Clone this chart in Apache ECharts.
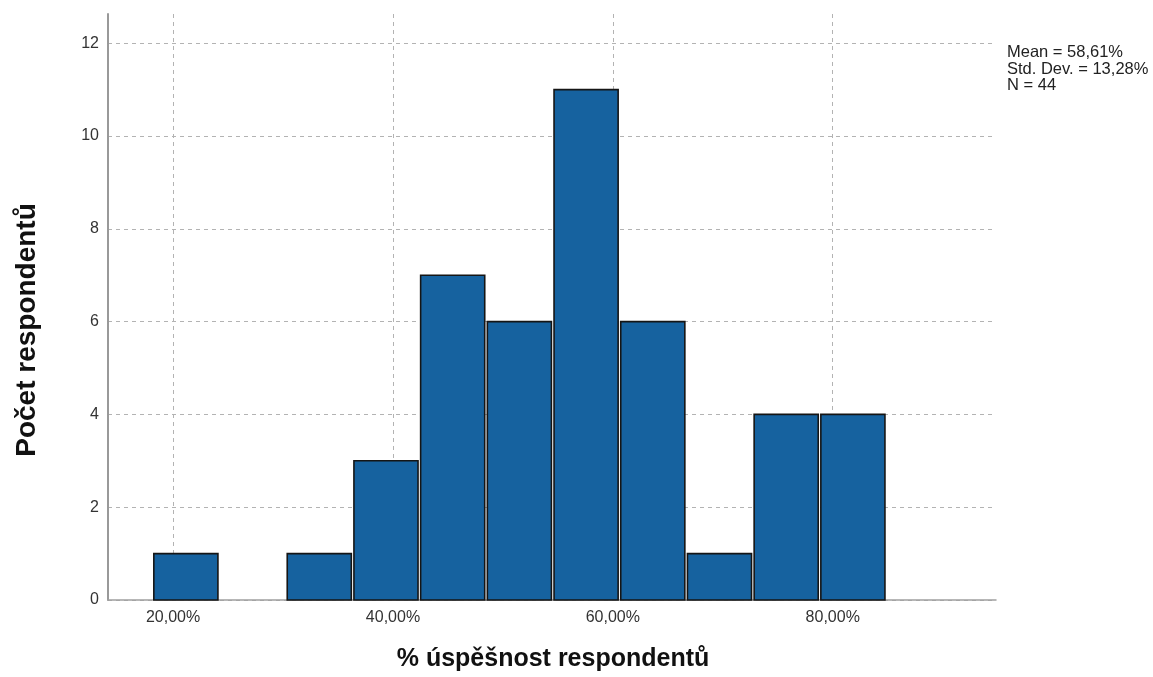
<!DOCTYPE html>
<html>
<head>
<meta charset="utf-8">
<script src="https://cdn.jsdelivr.net/npm/echarts@6/dist/echarts.min.js"></script>
<style>html,body{margin:0;padding:0;background:#fff}#c{width:1153px;height:677px}</style>
</head>
<body>
<div id="c"></div>
<script>
// Histogram bins (percent) and counts
const binStart = 18.13;
const binWidth = 6.067;
const counts = [1, 0, 1, 3, 7, 6, 11, 6, 1, 4, 4];
const xTicks = [20, 40, 60, 80];
const yTicks = [0, 2, 4, 6, 8, 10, 12];
const statsLines = ['Mean = 58,61%', 'Std. Dev. = 13,28%', 'N = 44'];
const xTitle = '% úspěšnost respondentů';
const yTitle = 'Počet respondentů';

const bins = counts.map((c, i) => [binStart + i * binWidth, binStart + (i + 1) * binWidth, c]);

const chart = echarts.init(document.getElementById('c'), null, {renderer: 'canvas'});
const gridStyle = {show: true, lineStyle: {color: '#b3b3b3', type: [4, 4], width: 1}};
chart.setOption({
  animation: false,
  backgroundColor: '#fff',
  grid: {left: 108, right: 157, top: 14, bottom: 77, containLabel: false},
  xAxis: {
    type: 'value', min: 14.08, max: 94.85,
    axisLine: {show: true, onZero: false, lineStyle: {color: '#a0a0a0', width: 1.5}},
    axisTick: {show: false, customValues: xTicks},
    axisLabel: {customValues: xTicks, margin: 10, color: '#333', fontSize: 16, fontFamily: 'Liberation Sans, Arial, sans-serif',
      formatter: v => v.toFixed(2).replace('.', ',') + '%'},
    splitLine: gridStyle
  },
  yAxis: {
    type: 'value', min: 0, max: 12.63,
    axisLine: {show: true, lineStyle: {color: '#999', width: 2}},
    axisTick: {show: false, customValues: yTicks},
    axisLabel: {customValues: yTicks, margin: 9, color: '#333', fontSize: 16, fontFamily: 'Liberation Sans, Arial, sans-serif'},
    splitLine: gridStyle
  },
  series: [{
    type: 'custom',
    data: bins,
    encode: {x: [0, 1], y: 2},
    renderItem: function (params, api) {
      const p0 = api.coord([api.value(0), api.value(2)]);
      const p1 = api.coord([api.value(1), 0]);
      if (api.value(2) <= 0) return null;
      const inset = 1.3;
      return {
        type: 'rect',
        shape: {x: p0[0] + inset, y: p0[1], width: p1[0] - p0[0] - 2 * inset, height: p1[1] - p0[1]},
        style: {fill: '#16629f', stroke: '#151515', lineWidth: 1.6}
      };
    }
  }],
  graphic: [
    {type: 'text', left: 1007, top: 44, style: {text: statsLines.join('\n'), fontSize: 16.5, lineHeight: 16.5,
      fill: '#222', fontFamily: 'Liberation Sans, Arial, sans-serif'}},
    {type: 'text', x: 553, y: 659, style: {text: xTitle, fontSize: 25, fontWeight: 'bold', fill: '#111',
      align: 'center', verticalAlign: 'middle', fontFamily: 'Liberation Sans, Arial, sans-serif'}},
    {type: 'text', x: 27, y: 330, rotation: Math.PI / 2, style: {text: yTitle, fontSize: 28, fontWeight: 'bold', fill: '#111',
      align: 'center', verticalAlign: 'middle', fontFamily: 'Liberation Sans, Arial, sans-serif'}}
  ]
});
</script>
</body>
</html>
